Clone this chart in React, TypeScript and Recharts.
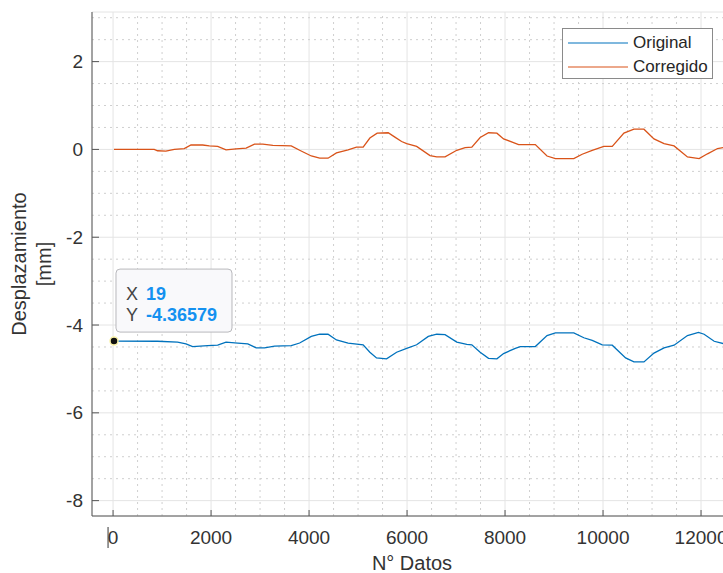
import React from "react";
import {
  CartesianGrid,
  Line,
  LineChart,
  ReferenceDot,
  ReferenceLine,
  XAxis,
  YAxis,
} from "recharts";

// values
const origX = [
  19, 907, 1317, 1488, 1624, 1931, 2135, 2306, 2545, 2750, 2920, 3091, 3296,
  3637, 3808, 4046, 4217, 4387, 4559, 4797, 5104, 5241, 5377, 5582, 5787, 5992,
  6196, 6434, 6606, 6776, 7015, 7220, 7322, 7492, 7663, 7834, 7970, 8209, 8311,
  8618, 8857, 9028, 9403, 9608, 9779, 9984, 10188, 10461, 10631, 10835, 11040,
  11245, 11450, 11723, 11948, 12063, 12268, 12550,
];
const origY = [
  -4.366, -4.37, -4.39, -4.43, -4.49, -4.47, -4.46, -4.39, -4.41, -4.43, -4.52,
  -4.52, -4.48, -4.47, -4.41, -4.26, -4.21, -4.21, -4.34, -4.41, -4.45, -4.62,
  -4.75, -4.77, -4.62, -4.53, -4.45, -4.26, -4.21, -4.22, -4.39, -4.44, -4.45,
  -4.62, -4.76, -4.77, -4.65, -4.53, -4.49, -4.49, -4.24, -4.18, -4.18, -4.29,
  -4.35, -4.45, -4.46, -4.75, -4.84, -4.84, -4.64, -4.52, -4.46, -4.24, -4.17,
  -4.21, -4.37, -4.45,
];
const corrX = [
  19, 840, 907, 1078, 1250, 1453, 1590, 1828, 1965, 2135, 2306, 2511, 2716,
  2886, 3057, 3262, 3637, 3808, 4046, 4217, 4387, 4559, 4797, 4968, 5104, 5241,
  5390, 5615, 5752, 5889, 5992, 6196, 6469, 6606, 6776, 7015, 7185, 7322, 7492,
  7663, 7834, 7970, 8277, 8618, 8857, 9028, 9403, 9574, 9779, 10016, 10188,
  10426, 10631, 10835, 11040, 11245, 11450, 11723, 11961, 12132, 12337, 12550,
];
const corrY = [
  0, 0, -0.03, -0.04, 0, 0.02, 0.1, 0.1, 0.08, 0.07, -0.01, 0.01, 0.03, 0.12,
  0.12, 0.09, 0.08, -0.02, -0.15, -0.2, -0.2, -0.08, -0.01, 0.05, 0.05, 0.26,
  0.37, 0.38, 0.28, 0.18, 0.13, 0.07, -0.14, -0.17, -0.17, -0.02, 0.04, 0.05,
  0.27, 0.38, 0.37, 0.24, 0.11, 0.11, -0.15, -0.21, -0.21, -0.11, -0.02, 0.07,
  0.07, 0.37, 0.46, 0.46, 0.24, 0.13, 0.08, -0.17, -0.21, -0.1, 0.02, 0.06,
];

const xTicks = [0, 2000, 4000, 6000, 8000, 10000, 12000];
const yTicks = [-8, -6, -4, -2, 0, 2];
const tipX = 19;
const tipY = -4.36579;

const original = origX.map((x, i) => ({ x, y: origY[i] }));
const corregido = corrX.map((x, i) => ({ x, y: corrY[i] }));

const X_DOMAIN: [number, number] = [-430, 12530];
const Y_DOMAIN: [number, number] = [-8.35, 3.13];

// minor grid every 500 / 0.5
const minorX: number[] = [];
for (let v = 0; v <= X_DOMAIN[1]; v += 500) if (v % 2000 !== 0) minorX.push(v);
const minorY: number[] = [];
for (let v = -8; v <= 3; v += 0.5) if (v % 2 !== 0) minorY.push(v);

const FONT = "'Liberation Sans', Arial, sans-serif";
const AX = "#555";
const TXT = "#333";

function YTick(props: any) {
  const { x, y, payload } = props;
  return (
    <g>
      <line x1={x} x2={x + 7} y1={y} y2={y} stroke={AX} />
      <text x={x - 9} y={y} dy="0.35em" textAnchor="end" fontSize={19} fill={TXT} fontFamily={FONT}>
        {payload.value}
      </text>
    </g>
  );
}

function XTick(props: any) {
  const { x, y, payload } = props;
  return (
    <g>
      <line x1={x} x2={x} y1={y} y2={y - 6} stroke={AX} />
      {payload.value === 0 && (
        <line x1={x - 5} x2={x - 5} y1={y + 11} y2={y + 32} stroke="#777" strokeWidth={1.5} />
      )}
      <text x={x} y={y + 28} textAnchor="middle" fontSize={19} fill={TXT} fontFamily={FONT}>
        {payload.value}
      </text>
    </g>
  );
}

function DataTip(props: any) {
  const { cx, cy } = props;
  return (
    <g fontFamily={FONT} fontSize={18}>
      <rect x={cx + 2} y={cy - 72} width={116} height={63} rx={4} fill="#f9f9fb" stroke="#b8b8bc" />
      <text x={cx + 12} y={cy - 41} fill="#444">X</text>
      <text x={cx + 32} y={cy - 41} fill="#1491f0" fontWeight="bold">{tipX}</text>
      <text x={cx + 12} y={cy - 20} fill="#444">Y</text>
      <text x={cx + 32} y={cy - 20} fill="#1491f0" fontWeight="bold">{tipY}</text>
      <circle cx={cx} cy={cy} r={4} fill="#111" stroke="#fbf3a8" strokeWidth={1.5} />
    </g>
  );
}

function Legend() {
  const row = (color: string, label: string) => (
    <div style={{ display: "flex", alignItems: "center", height: 24 }}>
      <svg width={60} height={4} style={{ marginRight: 5 }}>
        <line x1={0} x2={60} y1={2} y2={2} stroke={color} strokeWidth={1.2} />
      </svg>
      <span>{label}</span>
    </div>
  );
  return (
    <div
      style={{
        position: "absolute",
        left: 562,
        top: 28,
        width: 151,
        height: 51,
        boxSizing: "border-box",
        border: "1px solid #8a8a8a",
        background: "#fff",
        padding: "2px 0 0 5px",
        fontFamily: FONT,
        fontSize: 17,
        color: "#262626",
        lineHeight: "24px",
      }}
    >
      {row("#0072BD", "Original")}
      {row("#D95319", "Corregido")}
    </div>
  );
}

function Titles() {
  return (
    <svg
      width={723}
      height={573}
      style={{ position: "absolute", left: 0, top: 0, pointerEvents: "none" }}
    >
      <g fontFamily={FONT} fontSize={20} fill={TXT}>
        <text x={412} y={570} textAnchor="middle">
          N° Datos
        </text>
        <text transform="rotate(-90)" x={-264} y={26} textAnchor="middle">
          Desplazamiento
        </text>
        <text transform="rotate(-90)" x={-264} y={51} textAnchor="middle">
          [mm]
        </text>
      </g>
    </svg>
  );
}

export default function App() {
  return (
    <div
      style={{
        position: "fixed",
        left: 0,
        top: 0,
        width: 723,
        height: 573,
        overflow: "hidden",
        background: "#fff",
      }}
    >
      <LineChart width={760} height={573} margin={{ top: 12, right: 33, left: 0, bottom: 0 }}>
        <CartesianGrid stroke="#e4e4e4" />
        {minorX.map((v) => (
          <ReferenceLine key={"mx" + v} x={v} stroke="#cfcfcf" strokeDasharray="2 4" />
        ))}
        {minorY.map((v) => (
          <ReferenceLine key={"my" + v} y={v} stroke="#cfcfcf" strokeDasharray="2 4" />
        ))}
        <XAxis
          dataKey="x"
          type="number"
          domain={X_DOMAIN}
          allowDataOverflow
          ticks={xTicks}
          height={57}
          tickSize={0}
          tickMargin={0}
          tick={<XTick />}
          axisLine={{ stroke: AX }}
          tickLine={false}
        />
        <YAxis
          dataKey="y"
          type="number"
          domain={Y_DOMAIN}
          allowDataOverflow
          ticks={yTicks}
          width={92}
          tickSize={0}
          tickMargin={0}
          tick={<YTick />}
          axisLine={{ stroke: AX }}
          tickLine={false}
        />
        <Line
          data={original}
          dataKey="y"
          name="Original"
          stroke="#0072BD"
          strokeWidth={1.3}
          dot={false}
          type="linear"
          isAnimationActive={false}
        />
        <Line
          data={corregido}
          dataKey="y"
          name="Corregido"
          stroke="#D95319"
          strokeWidth={1.3}
          dot={false}
          type="linear"
          isAnimationActive={false}
        />
        <ReferenceDot x={tipX} y={tipY} r={4} shape={<DataTip />} />
      </LineChart>
      <Titles />
      <Legend />
    </div>
  );
}
